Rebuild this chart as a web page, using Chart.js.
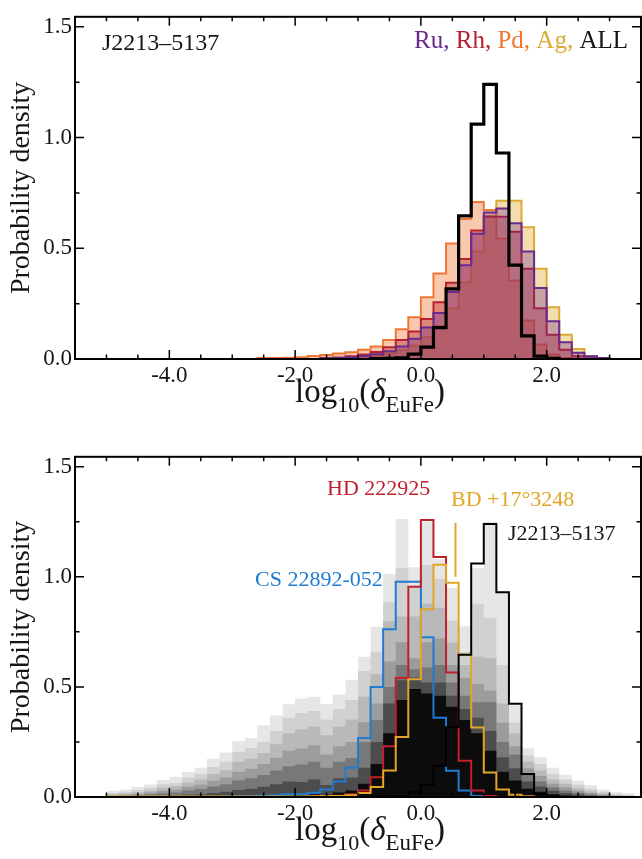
<!DOCTYPE html>
<html>
<head>
<meta charset="utf-8">
<script src="https://cdn.jsdelivr.net/npm/chart.js@4.4.1/dist/chart.umd.min.js"></script>
<style>
  body { margin: 0; background: #fff; }
  canvas { position: absolute; left: 0; }
  #topChart { top: 0; }
  #botChart { top: 440px; }
</style>
</head>
<body>
<canvas id="topChart" width="642" height="440"></canvas>
<canvas id="botChart" width="642" height="419"></canvas>
<script>
// bin edges shared by every histogram (width 0.2)
const binEdges = [-5.0,-4.8,-4.6,-4.4,-4.2,-4.0,-3.8,-3.6,-3.4,-3.2,-3.0,-2.8,-2.6,-2.4,-2.2,-2.0,-1.8,-1.6,-1.4,-1.2,-1.0,-0.8,-0.6,-0.4,-0.2,0.0,0.2,0.4,0.6,0.8,1.0,1.2,1.4,1.6,1.8,2.0,2.2,2.4,2.6,2.8,3.0,3.2,3.4];

// top panel: J2213-5137 per element
const allVals = [0,0,0,0,0,0,0,0,0,0, 0,0,0,0,0,0,0,0,0,0, 0,0.002,0.003,0.005,0.022,0.054,0.142,0.317,0.646,1.06, 1.24,0.93,0.424,0.104,0.013,0.003,0,0,0,0, 0,0];
const ruVals = [0,0,0,0,0,0,0,0,0,0, 0,0,0,0,0,0,0,0.003,0.005,0.008, 0.014,0.022,0.035,0.056,0.091,0.142,0.208,0.303,0.423,0.566, 0.661,0.68,0.613,0.485,0.32,0.171,0.076,0.028,0.012,0.004, 0,0];
const rhVals = [0,0,0,0,0,0,0,0,0,0, 0,0,0,0,0,0,0,0.004,0.007,0.012, 0.02,0.032,0.053,0.086,0.124,0.181,0.256,0.344,0.452,0.58, 0.642,0.642,0.575,0.408,0.229,0.11,0.042,0.012,0.003,0, 0,0];
const pdVals = [0,0,0,0,0,0,0,0,0,0, 0,0,0.004,0.005,0.006,0.008,0.013,0.018,0.025,0.031, 0.042,0.057,0.086,0.134,0.189,0.279,0.386,0.522,0.632,0.709, 0.673,0.544,0.354,0.174,0.066,0.02,0.005,0,0,0, 0,0];
const agVals = [0,0,0,0,0,0,0,0,0,0, 0,0,0,0,0,0,0,0,0,0.005, 0.01,0.015,0.025,0.04,0.061,0.098,0.149,0.229,0.346,0.485, 0.646,0.715,0.715,0.595,0.408,0.234,0.11,0.045,0.012,0.003, 0,0];

// bottom panel: comparison stars
const csVals = [0,0,0,0,0,0,0,0,0,0, 0.003,0.004,0.006,0.008,0.012,0.012,0.019,0.034,0.07,0.133, 0.268,0.5,0.762,0.978,0.978,0.725,0.36,0.119,0.03,0.005, 0,0,0,0,0,0,0,0,0,0, 0,0];
const hdVals = [0,0,0,0,0,0,0,0,0,0, 0,0,0,0,0,0,0.002,0.003,0.006,0.012, 0.03,0.09,0.231,0.54,0.955,1.258,1.09,0.565,0.165,0.03, 0.005,0,0,0,0,0,0,0,0,0, 0,0];
const bdVals = [0.002,0.002,0.002,0.002,0.002,0.002,0.002,0.002,0.002,0.002, 0.002,0.002,0.002,0.002,0.002,0.002,0.003,0.004,0.005,0.008, 0.018,0.045,0.12,0.272,0.535,0.853,1.055,0.973,0.646,0.316, 0.111,0.034,0.01,0.003,0,0,0,0,0,0, 0,0];
const bdMarkX = [0.55, 0.55];
const bdMarkY = [1.0, 1.245];

// grey background levels (outer envelope first, darker cores after)
const grey1 = [0.028,0.034,0.045,0.057,0.078,0.092,0.114,0.133,0.174,0.202, 0.253,0.268,0.326,0.37,0.421,0.447,0.455,0.422,0.465,0.532, 0.637,0.773,1.013,1.262,1.043,1.25,1.08,0.95,0.776,1.04, 1.25,0.928,0.417,0.221,0.18,0.133,0.101,0.075,0.053,0.034, 0.022,0.016];
const grey2 = [0.018,0.024,0.032,0.042,0.058,0.064,0.088,0.105,0.136,0.16, 0.206,0.222,0.25,0.30,0.36,0.382,0.39,0.352,0.40,0.44, 0.572,0.659,0.886,1.04,0.952,1.054,0.99,0.80,0.659,0.878, 0.813,0.60,0.338,0.19,0.15,0.105,0.08,0.056,0.038,0.024, 0.014,0.009];
const grey3 = [0.012,0.016,0.022,0.03,0.042,0.05,0.066,0.08,0.104,0.122, 0.16,0.175,0.20,0.24,0.29,0.308,0.32,0.28,0.32,0.352, 0.455,0.557,0.798,0.82,0.82,0.878,0.86,0.70,0.60,0.637, 0.63,0.425,0.29,0.16,0.12,0.08,0.06,0.04,0.026,0.016, 0.009,0.005];
const grey4 = [0.007,0.01,0.014,0.02,0.028,0.034,0.046,0.056,0.074,0.088, 0.115,0.128,0.15,0.178,0.21,0.22,0.235,0.193,0.23,0.25, 0.34,0.425,0.615,0.703,0.63,0.703,0.72,0.60,0.54,0.513, 0.484,0.338,0.23,0.13,0.095,0.06,0.044,0.028,0.018,0.01, 0.005,0.003];
const grey5 = [0.004,0.006,0.008,0.012,0.017,0.021,0.03,0.036,0.048,0.058, 0.075,0.085,0.10,0.12,0.14,0.148,0.16,0.133,0.16,0.177, 0.25,0.35,0.50,0.60,0.58,0.588,0.60,0.52,0.46,0.43, 0.43,0.25,0.193,0.10,0.07,0.044,0.03,0.019,0.011,0.006, 0.003,0.002];
const grey6 = [0.001,0.002,0.002,0.003,0.005,0.007,0.01,0.013,0.018,0.024, 0.032,0.038,0.046,0.058,0.07,0.068,0.08,0.055,0.085,0.089, 0.133,0.25,0.425,0.53,0.543,0.52,0.52,0.46,0.40,0.36, 0.30,0.18,0.13,0.07,0.048,0.028,0.018,0.011,0.006,0.003, 0.002,0.001];
const grey7 = [0,0,0,0,0,0,0,0,0,0, 0,0,0,0,0,0.008,0.012,0.01,0.02,0.03, 0.06,0.15,0.29,0.44,0.49,0.47,0.46,0.41,0.35,0.29, 0.21,0.115,0.075,0.038,0.024,0.013,0.007,0.004,0.002,0.001, 0,0];
const greyLevels = [grey1, grey2, grey3, grey4, grey5, grey6, grey7];
const greyColors = ['#e6e6e6', '#d1d1d1', '#b9b9b9', '#9c9c9c', '#787878', '#4d4d4d', '#0c0c0c'];

// axes
const xTickVals = [-4.0, -2.0, 0.0, 2.0];
const xMinorVals = [-5.0,-4.5,-4.0,-3.5,-3.0,-2.5,-2.0,-1.5,-1.0,-0.5,0.0,0.5,1.0,1.5,2.0,2.5,3.0];
const yTickVals = [0.0, 0.5, 1.0, 1.5];
const yMinorVals = [0.25, 0.75, 1.25];

const SERIF = "'Liberation Serif', serif";
const INK = '#151515';
const RU = '#6a2a8e', RH = '#b8202e', PD = '#ee7733', AG = '#ddaa33';
const CS = '#1f7bd2', HD = '#c0202c', BD = '#e2a626';

function stepPoints(vals) {
  let a = 0, b = vals.length - 1;
  while (a < b && vals[a] === 0) a++;
  while (b > a && vals[b] === 0) b--;
  const pts = [{x: binEdges[a], y: 0}];
  for (let i = a; i <= b; i++) pts.push({x: binEdges[i], y: vals[i]});
  pts.push({x: binEdges[b + 1], y: 0});
  return pts;
}

function hist(vals, line, width, fillColor) {
  return {
    data: stepPoints(vals),
    stepped: true,
    borderColor: line,
    borderWidth: width,
    backgroundColor: fillColor || 'rgba(0,0,0,0)',
    fill: fillColor ? 'origin' : false,
    pointRadius: 0,
    borderJoinStyle: 'miter',
    borderCapStyle: 'butt'
  };
}

// datasets listed bottom-first, order makes later ones draw on top
function ordered(list) {
  list.forEach((d, i) => { d.order = list.length - i; });
  return list;
}

function scales(xHeight) {
  return {
    x: {
      type: 'linear', min: -5.5, max: 3.5,
      grid: { display: false, drawTicks: false },
      border: { display: false },
      ticks: { font: { family: SERIF, size: 23 }, color: INK, padding: 3, maxRotation: 0,
               callback: v => v.toFixed(1) },
      afterBuildTicks: s => { s.ticks = xTickVals.map(v => ({ value: v })); },
      afterFit: s => { s.height = xHeight; }
    },
    y: {
      min: 0, max: 1.545,
      grid: { display: false, drawTicks: false },
      border: { display: false },
      ticks: { font: { family: SERIF, size: 23 }, color: INK, padding: 3,
               callback: v => v.toFixed(1) },
      afterBuildTicks: s => { s.ticks = yTickVals.map(v => ({ value: v })); },
      afterFit: s => { s.width = 75; },
      title: { display: true, text: 'Probability density', color: INK,
               font: { family: SERIF, size: 28 }, padding: { top: 5, bottom: 0 } }
    }
  };
}

function drawXTitle(ctx, cx, base) {
  const parts = [
    ['log', '33px ' + SERIF, 0],
    ['10', '22px ' + SERIF, 10],
    ['(', '33px ' + SERIF, 0],
    ['\u03b4', 'italic 33px ' + SERIF, 0],
    ['EuFe', '23px ' + SERIF, 10],
    [')', '33px ' + SERIF, 0]
  ];
  let total = 0;
  parts.forEach(p => { ctx.font = p[1]; total += ctx.measureText(p[0]).width; });
  let x = cx - total / 2;
  ctx.fillStyle = INK;
  ctx.textBaseline = 'alphabetic';
  ctx.textAlign = 'left';
  parts.forEach(p => { ctx.font = p[1]; ctx.fillText(p[0], x, base + p[2]); x += ctx.measureText(p[0]).width; });
}

const framePlugin = {
  id: 'frame',
  afterDraw(chart, args, opts) {
    const { ctx, chartArea: a } = chart;
    const x = chart.scales.x, y = chart.scales.y;
    ctx.save();
    ctx.strokeStyle = '#000';
    ctx.lineWidth = 1.5;
    ctx.beginPath();
    xMinorVals.forEach(v => {
      const px = x.getPixelForValue(v);
      const L = xTickVals.includes(v) ? 9 : 4.5;
      ctx.moveTo(px, a.bottom); ctx.lineTo(px, a.bottom - L);
      ctx.moveTo(px, a.top); ctx.lineTo(px, a.top + L);
    });
    yTickVals.concat(yMinorVals).forEach(v => {
      const py = y.getPixelForValue(v);
      const L = yTickVals.includes(v) ? 9 : 4.5;
      ctx.moveTo(a.left, py); ctx.lineTo(a.left + L, py);
      ctx.moveTo(a.right, py); ctx.lineTo(a.right - L, py);
    });
    ctx.stroke();
    ctx.lineWidth = 2;
    ctx.strokeRect(a.left, a.top, a.right - a.left, a.bottom - a.top);
    drawXTitle(ctx, 370, a.bottom + 43);
    ctx.textBaseline = 'alphabetic';
    (opts.labels || []).forEach(l => {
      ctx.font = l.size + 'px ' + SERIF;
      ctx.fillStyle = l.color;
      ctx.textAlign = l.align || 'left';
      ctx.fillText(l.text, l.x, l.y);
    });
    if (opts.runs) {
      const r = opts.runs;
      ctx.font = r.size + 'px ' + SERIF;
      ctx.textAlign = 'left';
      let w = 0;
      r.parts.forEach(p => { w += ctx.measureText(p[0]).width; });
      let px = r.right - w;
      r.parts.forEach(p => { ctx.fillStyle = p[1]; ctx.fillText(p[0], px, r.y); px += ctx.measureText(p[0]).width; });
    }
    ctx.restore();
  }
};

function baseOptions(padTop, xHeight, frameOpts) {
  return {
    responsive: false,
    devicePixelRatio: 1,
    animation: false,
    layout: { padding: { top: padTop, right: 1, left: 0, bottom: 0 } },
    plugins: { legend: { display: false }, tooltip: { enabled: false }, frame: frameOpts },
    scales: scales(xHeight)
  };
}

new Chart(document.getElementById('topChart'), {
  type: 'line',
  data: { datasets: ordered([
    hist(agVals, AG, 2, 'rgba(221,170,51,0.4)'),
    hist(pdVals, PD, 2, 'rgba(238,119,51,0.4)'),
    hist(rhVals, RH, 2, 'rgba(184,32,46,0.4)'),
    hist(ruVals, RU, 2, 'rgba(106,42,142,0.33)'),
    hist(allVals, '#000', 3.2, null)
  ]) },
  options: baseOptions(7, 81, {
    labels: [{ text: 'J2213\u20135137', x: 102, y: 50, size: 24, color: INK }],
    runs: { right: 628, y: 48, size: 25, parts: [
      ['Ru, ', RU], ['Rh, ', RH], ['Pd, ', PD], ['Ag, ', AG], ['ALL', INK]
    ] }
  }),
  plugins: [framePlugin]
});

const greySets = greyLevels.map((g, i) => hist(g, 'rgba(0,0,0,0)', 0, greyColors[i]));

new Chart(document.getElementById('botChart'), {
  type: 'line',
  data: { datasets: ordered(greySets.concat([
    hist(csVals, CS, 2, null),
    hist(hdVals, HD, 2, null),
    hist(bdVals, BD, 2, null),
    hist(allVals, '#000', 2, null),
    { data: bdMarkX.map((v, i) => ({ x: v, y: bdMarkY[i] })), borderColor: BD, borderWidth: 2, pointRadius: 0, fill: false }
  ])) },
  options: baseOptions(4, 62, {
    labels: [
      { text: 'HD 222925', x: 327, y: 55, size: 22, color: HD },
      { text: 'BD +17\u00b03248', x: 451, y: 66, size: 22, color: BD },
      { text: 'J2213\u20135137', x: 508, y: 100, size: 22, color: INK },
      { text: 'CS 22892-052', x: 255, y: 146, size: 22, color: CS }
    ]
  }),
  plugins: [framePlugin]
});
</script>
</body>
</html>
